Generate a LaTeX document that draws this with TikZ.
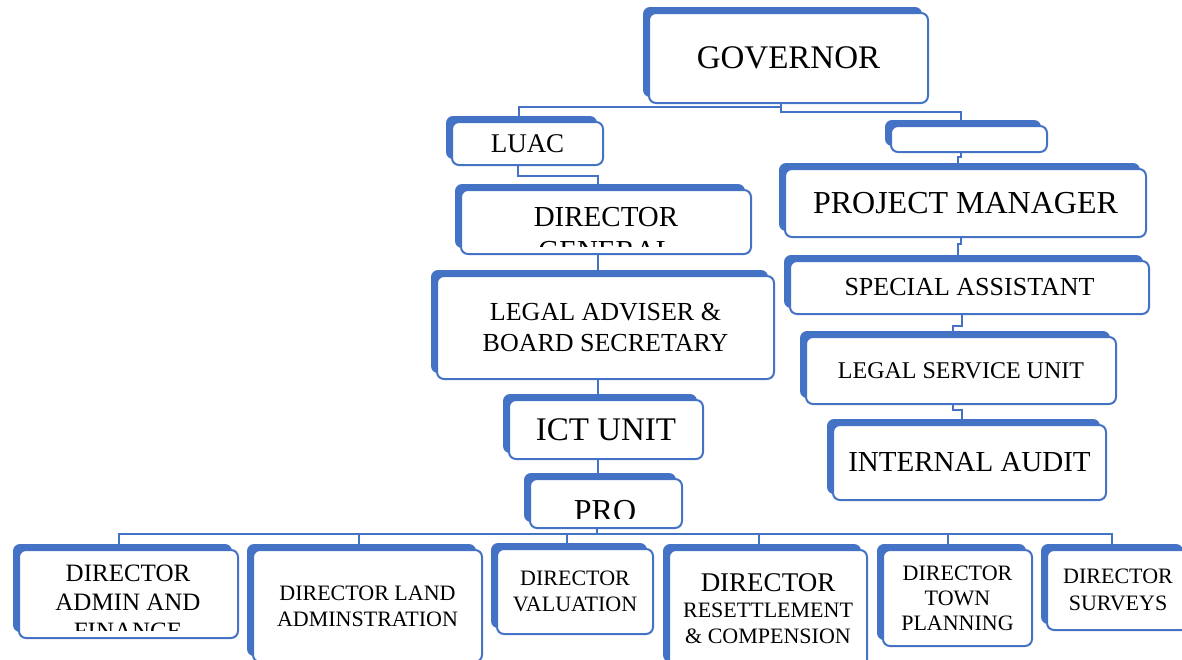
\documentclass[tikz,border=0pt]{standalone}
\usepackage{fontspec}
\setmainfont{Liberation Serif}
\usetikzlibrary{shadows}
\definecolor{orgblue}{HTML}{4472C4}
\newcommand{\boxfont}[2]{\fontsize{#1}{#2}\selectfont}

\begin{document}
\begin{tikzpicture}[x=1pt, y=-1pt,
    unit/.style={draw=orgblue, line width=2pt, fill=white, rounded corners=7pt,
      inner sep=0pt, align=center,
      general shadow={fill=orgblue, shadow xshift=-6pt, shadow yshift=6pt}},
    boxtext/.style={inner sep=0pt, align=center},
    link/.style={draw=orgblue, line width=2pt}]
    \clip (0,0) rectangle (1182,659);

    % Top of the chart
    \node[unit, minimum width=279pt, minimum height=90pt, font=\boxfont{33}{38}] (gov) at (788.5,58) {GOVERNOR};
    \node[unit, minimum width=151pt, minimum height=43pt, font=\boxfont{27}{31}] (luac) at (527.5,143.5) {LUAC};
    \node[unit, minimum width=156pt, minimum height=26pt] (blank) at (969,139) {};

    % Left column
    \node[unit, minimum width=290pt, minimum height=64pt] (dg) at (606,222) {};
    \begin{scope}
        \clip (dg.north west) rectangle ([yshift=9pt]dg.south east);
        \node[boxtext, font=\boxfont{29}{34}] (dgtext) at (606,234) {DIRECTOR\\GENERAL};
    \end{scope}
    \node[unit, minimum width=337pt, minimum height=103pt, font=\boxfont{26}{31}] (legal) at (605.5,327.5) {LEGAL ADVISER \&\\BOARD SECRETARY};
    \node[unit, minimum width=194pt, minimum height=59pt, font=\boxfont{33}{38}] (ict) at (606,429.5) {ICT UNIT};
    \node[unit, minimum width=152pt, minimum height=49pt] (pro) at (606,503.5) {};
    \begin{scope}
        \clip (pro.north west) rectangle ([yshift=11pt]pro.south east);
        \node[boxtext, font=\boxfont{32}{37}] (protext) at (605,511) {PRO};
    \end{scope}

    % Right column
    \node[unit, minimum width=361pt, minimum height=68pt, font=\boxfont{32}{37}] (pm) at (965.5,203) {PROJECT MANAGER};
    \node[unit, minimum width=359pt, minimum height=53pt, font=\boxfont{26}{31}] (sa) at (969.5,287.5) {SPECIAL ASSISTANT};
    \node[unit, minimum width=310pt, minimum height=67pt, font=\boxfont{24}{28}] (lsu) at (961,370.5) {LEGAL SERVICE UNIT};
    \node[unit, minimum width=273pt, minimum height=75pt, font=\boxfont{29}{34}] (ia) at (969.5,462.5) {INTERNAL AUDIT};

    % Directorates
    \node[unit, minimum width=219pt, minimum height=88pt] (admin) at (128.5,594) {};
    \begin{scope}
        \clip (admin.north west) rectangle ([yshift=9pt]admin.south east);
        \node[boxtext, font=\boxfont{25}{29}] (admintext) at (128,602) {DIRECTOR\\ADMIN AND\\FINANCE};
    \end{scope}
    \node[unit, minimum width=229pt, minimum height=112pt, font=\boxfont{22}{26}] (land) at (367.5,606) {DIRECTOR LAND\\ADMINSTRATION};
    \node[unit, minimum width=156pt, minimum height=85pt, font=\boxfont{22}{26}] (val) at (575,591.5) {DIRECTOR\\VALUATION};
    \node[unit, minimum width=198pt, minimum height=118pt, font=\boxfont{22}{26}] (res) at (768,609) {{\boxfont{27}{30}DIRECTOR}\\RESETTLEMENT\\\& COMPENSION};
    \node[unit, minimum width=149pt, minimum height=96pt, font=\boxfont{22}{25}] (town) at (957.5,598) {DIRECTOR\\TOWN\\PLANNING};
    \node[unit, minimum width=142pt, minimum height=80pt, font=\boxfont{22}{27}] (surv) at (1118,590) {DIRECTOR\\SURVEYS};

    % Connectors
    \draw[link] ([xshift=-8pt]gov.south) -- ++(0,3) -| ([xshift=-9pt]luac.north);
    \draw[link] ([xshift=-8pt]gov.south) -- ++(0,8) -| ([xshift=-8pt]blank.north);
    \draw[link] ([xshift=-9.5pt]luac.south) -- ++(0,10) -| ([xshift=-8pt]dg.north);
    \draw[link] ([xshift=-8pt]dg.south) -- ([xshift=-7.5pt]legal.north);
    \draw[link] ([xshift=-7.5pt]legal.south) -- ([xshift=-8pt]ict.north);
    \draw[link] ([xshift=-8pt]ict.south) -- ([xshift=-8pt]pro.north);
    \draw[link] ([xshift=-8pt]blank.south) -- ++(0,4) -| ([xshift=-7.5pt]pm.north);
    \draw[link] ([xshift=-4.5pt]pm.south) -- ++(0,6) -| ([xshift=-12pt]sa.north);
    \draw[link] ([xshift=-7.5pt]sa.south) -- ++(0,11) -| ([xshift=-8pt]lsu.north);
    \draw[link] ([xshift=-8pt]lsu.south) -- ++(0,5) -| ([xshift=-7.5pt]ia.north);

    % Bus under PRO
    \draw[link] ([xshift=-9pt]pro.south) -- ++(0,5) coordinate (bus);
    \foreach \n/\dx in {admin/9.5, land/8.5, val/8, res/9, town/9.5, surv/6}
        \draw[link] (bus) -| ([xshift=-\dx pt]\n.north);
\end{tikzpicture}
\end{document}
